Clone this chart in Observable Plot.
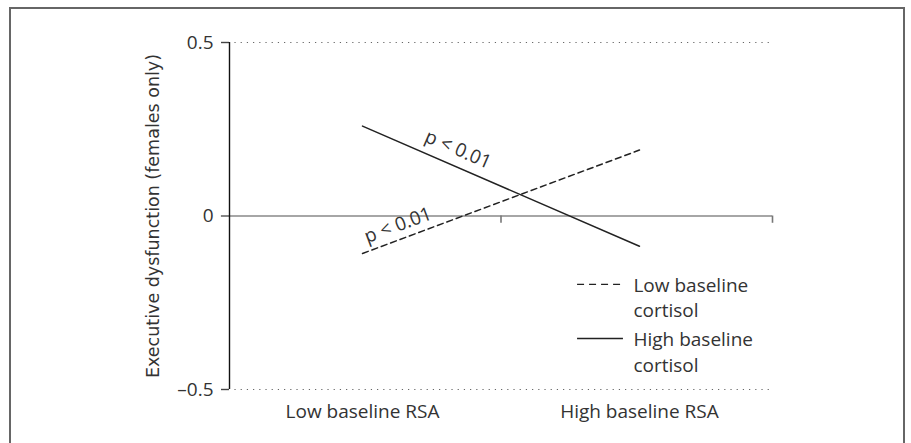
<!DOCTYPE html>
<html><head><meta charset="utf-8">
<script src="https://cdn.jsdelivr.net/npm/d3@7"></script>
<script src="https://cdn.jsdelivr.net/npm/@observablehq/plot@0.6"></script>
<style>
body{margin:0;background:#fff;}
#frame{position:absolute;left:9px;top:7px;width:892px;height:470px;border-left:2px solid #666;border-top:2px solid #666;border-right:2px solid #666;}
#chart{position:absolute;left:0;top:0;}
</style></head><body>
<div id="frame"></div><div id="chart"></div>
<script>
// Data
const categories = ["Low baseline RSA", "High baseline RSA"];
const catPos = [0.49, 1.51];
const lowCortisol = [-0.108, 0.19];
const highCortisol = [0.259, -0.087];
const seriesNames = ["Low baseline\ncortisol", "High baseline\ncortisol"];
const yTicks = [-0.5, 0, 0.5];
const yTickLabels = ["\u20130.5", "0", "0.5"];
const xTicks = [1, 2];
const pLabel = "p < 0.01";
const yTitle = "Executive dysfunction (females only)";

const font = "'Open Sans', sans-serif";
const lowLine = catPos.map((x, i) => ({x, y: lowCortisol[i]}));
const highLine = catPos.map((x, i) => ({x, y: highCortisol[i]}));
const lerp = (pts, t) => ({x: pts[0].x + (pts[1].x - pts[0].x) * t, y: pts[0].y + (pts[1].y - pts[0].y) * t});
const catData = categories.map((name, i) => ({name, x: catPos[i]}));

// legend layout (data units)
const legendLow = [{x1: 1.282, x2: 1.451, y: -0.197, label: seriesNames[0]}];
const legendHigh = [{x1: 1.282, x2: 1.451, y: -0.353, label: seriesNames[1]}];

const chart = Plot.plot({
  width: 911, height: 443,
  marginLeft: 229, marginRight: 139, marginTop: 42, marginBottom: 54,
  style: {fontFamily: font, background: "transparent", overflow: "visible"},
  x: {domain: [0, 2], axis: null},
  y: {domain: [-0.5, 0.5], axis: null},
  marks: [
    // dotted gridlines
    Plot.ruleY([0.5, -0.5], {y: d => d, x1: 0.02, x2: 2.005, stroke: "#666", strokeWidth: 1.2, strokeDasharray: "1.2,5"}),
    // y axis ticks and labels
    Plot.axisY(yTicks, {label: null, tickSize: 8, tickPadding: 8, tickFormat: d => yTickLabels[yTicks.indexOf(d)], fontSize: 19, stroke: "#444", strokeWidth: 1.4, color: "#333"}),
    // zero line
    Plot.ruleY([0], {y: d => d, x1: -0.03, x2: 2, stroke: "#888", strokeWidth: 1.6}),
    // x ticks
    Plot.ruleX(xTicks, {x: d => d, y1: 0, y2: -0.021, stroke: "#777", strokeWidth: 1.6}),
    // y axis line
    Plot.ruleX([0], {x: d => d, y1: -0.5, y2: 0.5, stroke: "#111", strokeWidth: 1.4}),
    // lines
    Plot.line(lowLine, {x: "x", y: "y", stroke: "#222", strokeWidth: 1.5, strokeDasharray: "6,4"}),
    Plot.line(highLine, {x: "x", y: "y", stroke: "#222", strokeWidth: 1.5}),
    // p labels
    Plot.text([lerp(highLine, 0.345)], {x: "x", y: "y", text: d => pLabel, rotate: 23.4, dy: -18, fontSize: 19, fill: "#333", lineAnchor: "middle"}),
    Plot.text([lerp(lowLine, 0.128)], {x: "x", y: "y", text: d => pLabel, rotate: -20.4, dy: -15, fontSize: 19, fill: "#333", lineAnchor: "middle"}),
    // x category labels
    Plot.text(catData, {x: "x", y: d => -0.5, text: "name", dy: 22, fontSize: 19, fill: "#333", lineAnchor: "middle"}),
    // y title
    Plot.text([yTitle], {x: d => 0, y: d => 0, text: d => d, dx: -76, rotate: -90, fontSize: 17.5, fontFamily: "'DejaVu Sans', sans-serif", fill: "#333", lineAnchor: "middle"}),
    // legend
    Plot.ruleY(legendLow, {x1: "x1", x2: "x2", y: "y", stroke: "#222", strokeWidth: 1.4, strokeDasharray: "7,5"}),
    Plot.ruleY(legendHigh, {x1: "x1", x2: "x2", y: "y", stroke: "#222", strokeWidth: 1.4}),
    Plot.text([...legendLow, ...legendHigh], {x: "x2", y: "y", text: "label", dx: 10, dy: 12.5, textAnchor: "start", lineAnchor: "middle", lineHeight: 1.32, fontSize: 19, fill: "#333"})
  ]
});
document.getElementById("chart").appendChild(chart);
</script>
</body></html>
